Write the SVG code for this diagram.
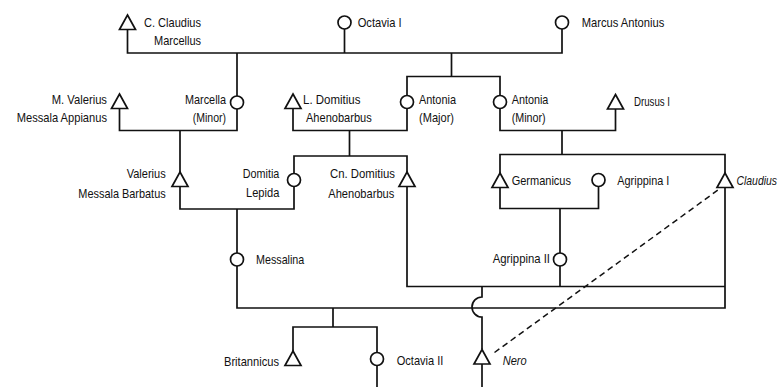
<svg xmlns="http://www.w3.org/2000/svg" width="782" height="387" viewBox="0 0 782 387">
  <style>
    .ln { fill: none; stroke: #111; stroke-width: 1.7; }
    .dash { fill: none; stroke: #111; stroke-width: 1.5; stroke-dasharray: 6 4; }
    .m { fill: #fff; stroke: #111; stroke-width: 1.7; }
    .f { fill: #fff; stroke: #111; stroke-width: 1.7; }
    text { font-family: "Liberation Sans", Arial, sans-serif; font-size: 13px; fill: #111; }
    .it { font-style: italic; }
  </style>
  <defs>
    <!-- male: triangle with apex at origin -->
    <path id="tri" d="M0,0 L8,14.5 L-8,14.5 Z"/>
  </defs>
  <rect width="782" height="387" fill="#fff"/>

  <!-- lines of descent and marriage -->
  <g id="connectors">
    <!-- Octavia I with C. Claudius Marcellus and Marcus Antonius -->
    <path class="ln" d="M127.5,29.5 V53 H562 V29"/>
    <path class="ln" d="M344.5,29 V53"/>
    <path class="ln" d="M237,53 V96"/>
    <path class="ln" d="M451.5,53 V76.5 M407,95.5 V76.5 H500 V95.5"/>
    <!-- Marcella (Minor) and M. Valerius -->
    <path class="ln" d="M119.5,108.5 V130.5 H237 V109"/>
    <path class="ln" d="M180,130.5 V172"/>
    <!-- Antonia (Major) and L. Domitius -->
    <path class="ln" d="M293,108.5 V130.5 H407 V108.5"/>
    <path class="ln" d="M349.5,130.5 V156 M294,173.5 V156 H407 V172"/>
    <!-- Antonia (Minor) and Drusus I -->
    <path class="ln" d="M500,108.5 V130.5 H615.5 V108.5"/>
    <path class="ln" d="M562,130.5 V154.5 M500,173 V154.5 H725 V173"/>
    <!-- Valerius Messala Barbatus and Domitia Lepida -->
    <path class="ln" d="M180,186.5 V209 H294 V186.5"/>
    <path class="ln" d="M237,209 V253"/>
    <!-- Germanicus and Agrippina I -->
    <path class="ln" d="M500,187.5 V208.5 H598.5 V186.5"/>
    <path class="ln" d="M560,208.5 V253"/>
    <!-- Agrippina II with Cn. Domitius and Claudius -->
    <path class="ln" d="M407,186.5 V286.5 H725"/>
    <path class="ln" d="M560,266 V286.5"/>
    <!-- Messalina and Claudius -->
    <path class="ln" d="M237,266 V308 H725 V187.5"/>
    <path class="ln" d="M333,308 V327 M293,351 V327 H377 V352.5"/>
    <path class="ln" d="M377,365.5 V387"/>
    <!-- Nero, hopping over the Messalina line -->
    <path class="ln" d="M482,286.5 V297 A10,10 0 0 0 482,317 V349"/>
    <path class="ln" d="M482,364 V387"/>
    <!-- adoption -->
    <path class="dash" d="M494.5,352.5 L718,190"/>
  </g>

  <g id="c-claudius-marcellus">
    <use href="#tri" class="m" x="127.5" y="15"/>
    <text x="144" y="26.5" textLength="57" lengthAdjust="spacingAndGlyphs">C. Claudius</text>
    <text x="154" y="45" textLength="47" lengthAdjust="spacingAndGlyphs">Marcellus</text>
  </g>
  <g id="octavia-i">
    <circle class="f" cx="344.5" cy="22.5" r="6.5"/>
    <text x="357.7" y="26.7" textLength="44" lengthAdjust="spacingAndGlyphs">Octavia I</text>
  </g>
  <g id="marcus-antonius">
    <circle class="f" cx="562" cy="22.5" r="6.5"/>
    <text x="581.7" y="26.7" textLength="82.6" lengthAdjust="spacingAndGlyphs">Marcus Antonius</text>
  </g>

  <g id="m-valerius-messala-appianus">
    <use href="#tri" class="m" x="119.5" y="94"/>
    <text x="51.7" y="104" textLength="55.3" lengthAdjust="spacingAndGlyphs">M. Valerius</text>
    <text x="16.7" y="121.7" textLength="90.3" lengthAdjust="spacingAndGlyphs">Messala Appianus</text>
  </g>
  <g id="marcella-minor">
    <circle class="f" cx="237" cy="102.5" r="6.5"/>
    <text x="185" y="104" textLength="41" lengthAdjust="spacingAndGlyphs">Marcella</text>
    <text x="192.7" y="121.7" textLength="33.3" lengthAdjust="spacingAndGlyphs">(Minor)</text>
  </g>
  <g id="l-domitius-ahenobarbus">
    <use href="#tri" class="m" x="293" y="94"/>
    <text x="303" y="104" textLength="57.5" lengthAdjust="spacingAndGlyphs">L. Domitius</text>
    <text x="306" y="121.7" textLength="65.7" lengthAdjust="spacingAndGlyphs">Ahenobarbus</text>
  </g>
  <g id="antonia-major">
    <circle class="f" cx="407" cy="102" r="6.5"/>
    <text x="419" y="104" textLength="37" lengthAdjust="spacingAndGlyphs">Antonia</text>
    <text x="419" y="121.7" textLength="35" lengthAdjust="spacingAndGlyphs">(Major)</text>
  </g>
  <g id="antonia-minor">
    <circle class="f" cx="500" cy="102" r="6.5"/>
    <text x="511.7" y="104" textLength="36.7" lengthAdjust="spacingAndGlyphs">Antonia</text>
    <text x="511.7" y="121.7" textLength="34" lengthAdjust="spacingAndGlyphs">(Minor)</text>
  </g>
  <g id="drusus-i">
    <use href="#tri" class="m" x="615.5" y="94.5"/>
    <text x="634" y="105.5" textLength="36" lengthAdjust="spacingAndGlyphs">Drusus I</text>
  </g>

  <g id="valerius-messala-barbatus">
    <use href="#tri" class="m" x="180" y="172"/>
    <text x="126.7" y="178.3" textLength="39" lengthAdjust="spacingAndGlyphs">Valerius</text>
    <text x="78.3" y="197.7" textLength="87.4" lengthAdjust="spacingAndGlyphs">Messala Barbatus</text>
  </g>
  <g id="domitia-lepida">
    <circle class="f" cx="294" cy="180" r="6.5"/>
    <text x="242.7" y="178" textLength="36.6" lengthAdjust="spacingAndGlyphs">Domitia</text>
    <text x="246" y="197.3" textLength="33.3" lengthAdjust="spacingAndGlyphs">Lepida</text>
  </g>
  <g id="cn-domitius-ahenobarbus">
    <use href="#tri" class="m" x="407" y="172"/>
    <text x="330" y="178" textLength="65" lengthAdjust="spacingAndGlyphs">Cn. Domitius</text>
    <text x="328.3" y="197.5" textLength="66" lengthAdjust="spacingAndGlyphs">Ahenobarbus</text>
  </g>
  <g id="germanicus">
    <use href="#tri" class="m" x="500" y="173"/>
    <text x="511.7" y="185" textLength="59.3" lengthAdjust="spacingAndGlyphs">Germanicus</text>
  </g>
  <g id="agrippina-i">
    <circle class="f" cx="598.5" cy="180" r="6.5"/>
    <text x="617.3" y="185" textLength="52" lengthAdjust="spacingAndGlyphs">Agrippina I</text>
  </g>
  <g id="claudius">
    <use href="#tri" class="m" x="725" y="173"/>
    <text class="it" transform="translate(736.5,185) scale(0.8,1)">Claudius</text>
  </g>

  <g id="messalina">
    <circle class="f" cx="237" cy="259.5" r="6.5"/>
    <text x="256" y="264.3" textLength="48.3" lengthAdjust="spacingAndGlyphs">Messalina</text>
  </g>
  <g id="agrippina-ii">
    <circle class="f" cx="560" cy="259.5" r="6.5"/>
    <text x="492.7" y="262.7" textLength="57.3" lengthAdjust="spacingAndGlyphs">Agrippina II</text>
  </g>

  <g id="britannicus">
    <use href="#tri" class="m" x="293" y="351"/>
    <text x="224" y="365.7" textLength="55" lengthAdjust="spacingAndGlyphs">Britannicus</text>
  </g>
  <g id="octavia-ii">
    <circle class="f" cx="377" cy="359" r="6.5"/>
    <text x="396.7" y="365" textLength="46.7" lengthAdjust="spacingAndGlyphs">Octavia II</text>
  </g>
  <g id="nero">
    <use href="#tri" class="m" x="482" y="349.5"/>
    <text class="it" x="502.7" y="365" textLength="24" lengthAdjust="spacingAndGlyphs">Nero</text>
  </g>
</svg>
